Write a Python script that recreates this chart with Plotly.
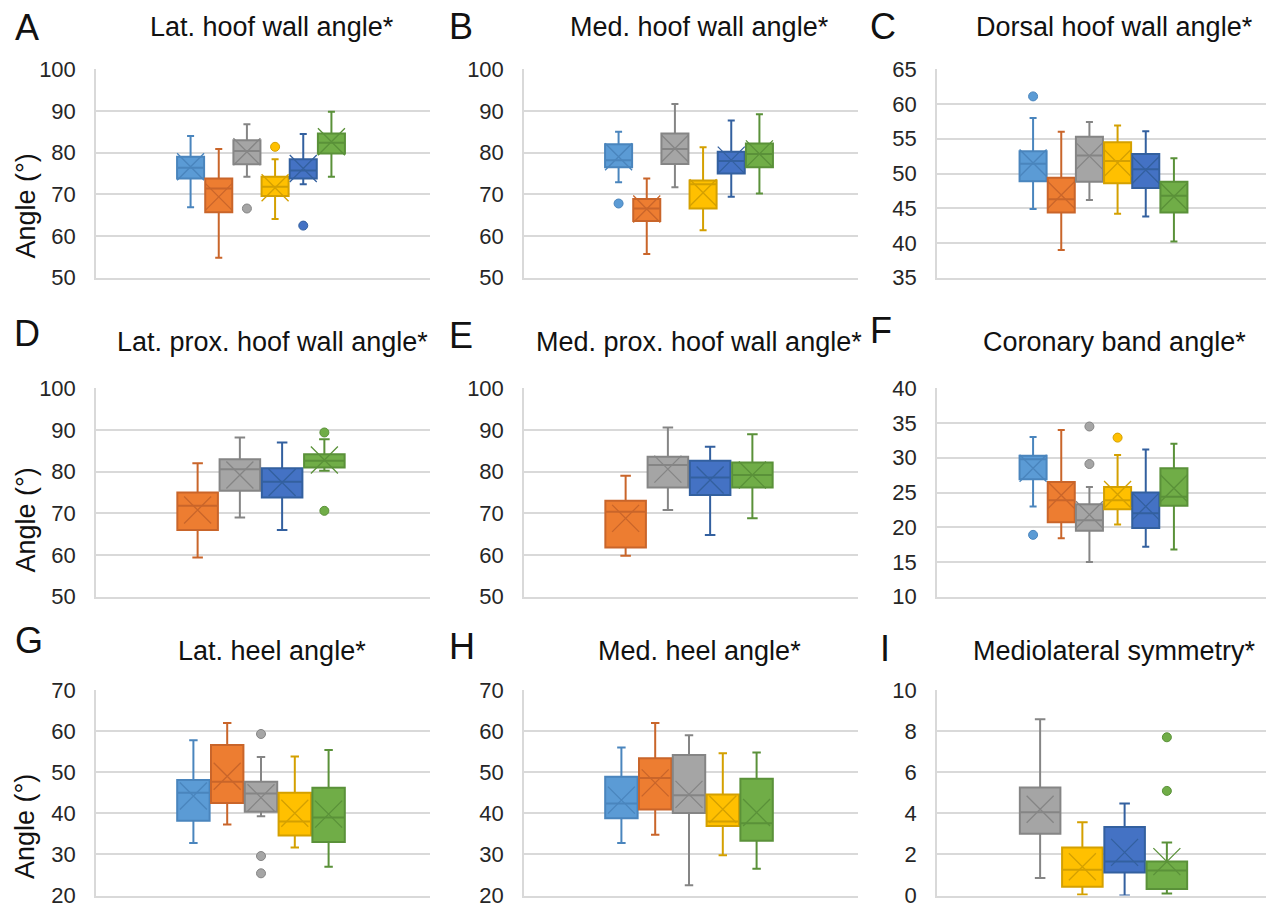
import plotly.graph_objects as go

W, H = 1266, 909
FONT = "Liberation Sans, Arial, sans-serif"

GROUPS = ["Group 1", "Group 2", "Group 3", "Group 4", "Group 5", "Group 6"]
FILL = ["#5B9BD5", "#ED7D31", "#A5A5A5", "#FFC000", "#4472C4", "#70AD47"]
EDGE = ["#4A85BD", "#C9652A", "#858585", "#D4A000", "#33609F", "#5A9139"]

# ---- A: lateral hoof wall angle
a_groups = [0, 1, 2, 3, 4, 5]
a_low = [66.9, 54.8, 74.2, 64.1, 72.4, 74.2]
a_q1 = [73.8, 65.7, 77.2, 69.6, 73.8, 79.8]
a_med = [76.4, 71.4, 80.4, 71.8, 75.7, 82.4]
a_q3 = [79.0, 73.8, 83.0, 74.2, 78.4, 84.6]
a_high = [84.0, 80.9, 86.8, 78.4, 84.5, 89.8]
a_mean = [76.6, 69.4, 80.2, 71.6, 76.2, 82.6]
a_out = [[], [], [66.6], [81.4], [62.5], []]

# ---- B: medial hoof wall angle
b_groups = [0, 1, 2, 3, 4, 5]
b_low = [72.9, 55.7, 71.7, 61.4, 69.4, 70.2]
b_q1 = [76.5, 63.6, 77.3, 66.6, 75.0, 76.5]
b_med = [78.2, 66.6, 80.9, 72.4, 78.0, 79.7]
b_q3 = [82.0, 68.9, 84.6, 73.3, 80.2, 82.2]
b_high = [85.0, 73.8, 91.7, 81.3, 87.7, 89.2]
b_mean = [79.0, 66.5, 81.0, 70.4, 78.2, 79.7]
b_out = [[67.8], [], [], [], [], []]

# ---- C: dorsal hoof wall angle
c_groups = [0, 1, 2, 3, 4, 5]
c_low = [44.9, 39.0, 46.2, 44.2, 43.8, 40.2]
c_q1 = [48.9, 44.4, 48.8, 48.6, 47.9, 44.4]
c_med = [51.4, 46.3, 52.6, 51.8, 50.6, 46.8]
c_q3 = [53.2, 49.4, 55.3, 54.5, 52.8, 48.8]
c_high = [58.0, 56.0, 57.4, 56.9, 56.1, 52.2]
c_mean = [51.5, 46.9, 52.5, 51.5, 50.5, 46.7]
c_out = [[61.1], [], [], [], [], []]

# ---- D: lateral proximal hoof wall angle
d_groups = [1, 2, 4, 5]
d_low = [59.4, 69.0, 66.0, 80.2]
d_q1 = [66.0, 75.4, 73.8, 81.0]
d_med = [71.8, 80.6, 77.6, 82.6]
d_q3 = [75.0, 83.0, 80.8, 84.2]
d_high = [82.0, 88.2, 87.0, 87.8]
d_mean = [70.8, 79.2, 77.4, 82.8]
d_out = [[], [], [], [89.4, 70.6]]

# ---- E: medial proximal hoof wall angle
e_groups = [1, 2, 4, 5]
e_low = [59.8, 70.8, 64.8, 68.8]
e_q1 = [61.8, 76.2, 74.4, 76.2]
e_med = [70.4, 81.6, 78.6, 79.2]
e_q3 = [73.0, 83.6, 82.6, 82.2]
e_high = [79.0, 90.6, 86.0, 89.0]
e_mean = [68.8, 80.6, 78.0, 79.2]
e_out = [[], [], [], []]

# ---- F: coronary band angle
f_groups = [0, 1, 2, 3, 4, 5]
f_low = [23.0, 18.4, 15.0, 20.4, 17.2, 16.8]
f_q1 = [26.9, 20.7, 19.5, 22.6, 19.9, 23.1]
f_med = [29.8, 23.9, 21.0, 23.9, 22.0, 24.4]
f_q3 = [30.3, 26.5, 23.3, 25.8, 25.0, 28.5]
f_high = [33.0, 34.0, 25.8, 30.4, 31.2, 32.0]
f_mean = [28.5, 24.6, 21.8, 24.7, 23.0, 25.6]
f_out = [[18.9], [], [34.5, 29.1], [32.9], [], []]

# ---- G: lateral heel angle
g_groups = [0, 1, 2, 3, 5]
g_low = [32.8, 37.3, 39.3, 31.7, 27.0]
g_q1 = [38.2, 42.5, 40.4, 34.6, 33.0]
g_med = [45.0, 47.7, 44.8, 38.0, 39.0]
g_q3 = [48.1, 56.6, 47.7, 45.0, 46.2]
g_high = [57.8, 62.0, 53.7, 53.8, 55.4]
g_mean = [44.2, 49.0, 43.8, 40.0, 39.8]
g_out = [[], [], [59.3, 29.6, 25.4], [], []]

# ---- H: medial heel angle
h_groups = [0, 1, 2, 3, 5]
h_low = [32.8, 34.8, 22.5, 29.8, 26.5]
h_q1 = [38.8, 40.9, 40.1, 36.9, 33.3]
h_med = [42.4, 48.6, 44.4, 38.0, 37.6]
h_q3 = [48.9, 53.4, 54.2, 44.6, 48.4]
h_high = [56.0, 62.0, 59.0, 54.6, 54.8]
h_mean = [43.2, 47.4, 44.6, 41.0, 40.2]
h_out = [[], [], [], [], []]

# ---- I: mediolateral symmetry
i_groups = [2, 3, 4, 5]
i_low = [0.85, 0.05, 0.0, 0.1]
i_q1 = [3.01, 0.42, 1.12, 0.32]
i_med = [4.05, 1.25, 1.65, 1.22]
i_q3 = [5.25, 2.34, 3.33, 1.65]
i_high = [8.58, 3.57, 4.48, 2.58]
i_mean = [4.2, 1.4, 2.1, 1.65]
i_out = [[], [], [], [7.7, 5.09]]

titles = ["Lat. hoof wall angle*", "Med. hoof wall angle*", "Dorsal hoof wall angle*",
          "Lat. prox. hoof wall angle*", "Med. prox. hoof wall angle*", "Coronary band angle*",
          "Lat. heel angle*", "Med. heel angle*", "Mediolateral symmetry*"]
letters = ["A", "B", "C", "D", "E", "F", "G", "H", "I"]
y_ranges = [(50, 100), (50, 100), (35, 65), (50, 100), (50, 100), (10, 40),
            (20, 70), (20, 70), (0, 10)]
y_steps = [10, 10, 5, 10, 10, 5, 10, 10, 2]
y_title = "Angle (°)"

panels = [
    (a_groups, a_low, a_q1, a_med, a_q3, a_high, a_mean, a_out),
    (b_groups, b_low, b_q1, b_med, b_q3, b_high, b_mean, b_out),
    (c_groups, c_low, c_q1, c_med, c_q3, c_high, c_mean, c_out),
    (d_groups, d_low, d_q1, d_med, d_q3, d_high, d_mean, d_out),
    (e_groups, e_low, e_q1, e_med, e_q3, e_high, e_mean, e_out),
    (f_groups, f_low, f_q1, f_med, f_q3, f_high, f_mean, f_out),
    (g_groups, g_low, g_q1, g_med, g_q3, g_high, g_mean, g_out),
    (h_groups, h_low, h_q1, h_med, h_q3, h_high, h_mean, h_out),
    (i_groups, i_low, i_q1, i_med, i_q3, i_high, i_mean, i_out),
]

# layout geometry in pixels
col_x = [(96, 430), (524, 858), (937, 1266)]
col_center = [261, 689, 1103.5]
row_y = [(69.3, 277.7), (388.3, 596.7), (690, 895.5)]
group_px = 169
title_x = [272, 699, 1114]
title_y = [27, 342, 651]
letter_pos = [(27, 27.5), (461, 26), (883, 26), (27, 333), (461, 335), (881, 331),
              (29, 640), (462, 646), (885, 648)]
axis_title_y = [206.5, 520.5, 827]


def px(x):
    return x / W


def py(y):
    return 1 - y / H


fig = go.Figure()
layout = dict(
    width=W, height=H, margin=dict(l=0, r=0, t=0, b=0, autoexpand=False),
    paper_bgcolor="white", plot_bgcolor="white",
    showlegend=False, boxmode="overlay", boxgap=0.04, boxgroupgap=0,
    font=dict(family=FONT, color="#262626"),
)
annotations = []

for k, (groups, low, q1, med, q3, high, mean, out) in enumerate(panels):
    r, c = divmod(k, 3)
    sfx = "" if k == 0 else str(k + 1)
    xa, ya = "x" + sfx, "y" + sfx
    names = [GROUPS[g] for g in groups]
    n = len(groups)
    slot = group_px / n
    x0, x1 = col_x[c]
    mid = (n - 1) / 2
    xrange = [mid - (col_center[c] - x0) / slot, mid + (x1 - col_center[c]) / slot]

    for j, g in enumerate(groups):
        fig.add_trace(go.Box(
            x=[names[j]], q1=[q1[j]], median=[med[j]], q3=[q3[j]],
            lowerfence=[low[j]], upperfence=[high[j]],
            boxpoints=False, fillcolor=FILL[g],
            line=dict(color=EDGE[g], width=2), whiskerwidth=0.26,
            xaxis=xa, yaxis=ya, hoverinfo="skip",
        ))
        fig.add_trace(go.Scatter(
            x=[names[j]], y=[mean[j]], mode="markers",
            marker=dict(symbol="x-thin-open", size=27, color=EDGE[g],
                        line=dict(color=EDGE[g], width=1.3)),
            xaxis=xa, yaxis=ya, hoverinfo="skip",
        ))
        if out[j]:
            fig.add_trace(go.Scatter(
                x=[names[j]] * len(out[j]), y=out[j], mode="markers",
                marker=dict(symbol="circle", size=9, color=FILL[g],
                            line=dict(color=EDGE[g], width=1)),
                xaxis=xa, yaxis=ya, hoverinfo="skip",
            ))

    y0, y1 = row_y[r]
    layout["xaxis" + sfx] = dict(
        domain=[px(x0), min(px(x1), 1.0)], anchor=ya, type="category",
        categoryorder="array", categoryarray=names, range=xrange,
        showticklabels=False, showgrid=False, zeroline=False, automargin=False,
        showline=True, linecolor="#D9D9D9", linewidth=1.5, ticks="",
    )
    lo, hi = y_ranges[k]
    layout["yaxis" + sfx] = dict(
        domain=[py(y1), py(y0)], anchor=xa, range=[lo, hi], automargin=False,
        tick0=lo, dtick=y_steps[k], showgrid=True, gridcolor="#D9D9D9",
        gridwidth=1.5, zeroline=False, showline=True, linecolor="#D9D9D9",
        linewidth=1.5, ticks="", ticklabelstandoff=14, ticklabeloverflow="allow",
        tickfont=dict(family=FONT, size=22, color="#262626"),
    )

    annotations.append(dict(
        text=titles[k], x=px(title_x[c]), y=py(title_y[r]), xref="paper", yref="paper",
        xanchor="center", yanchor="middle", showarrow=False,
        font=dict(family=FONT, size=27, color="#111111"),
    ))
    lx, ly = letter_pos[k]
    annotations.append(dict(
        text=letters[k], x=px(lx), y=py(ly), xref="paper", yref="paper",
        xanchor="center", yanchor="middle", showarrow=False,
        font=dict(family=FONT, size=36, color="#111111"),
    ))
    if c == 0:
        annotations.append(dict(
            text=y_title, x=px(25), y=py(axis_title_y[r]), xref="paper", yref="paper",
            xanchor="center", yanchor="middle", showarrow=False, textangle=-90,
            font=dict(family=FONT, size=27, color="#111111"),
        ))

layout["annotations"] = annotations
fig.update_layout(**layout)
fig.write_html("out.html")
